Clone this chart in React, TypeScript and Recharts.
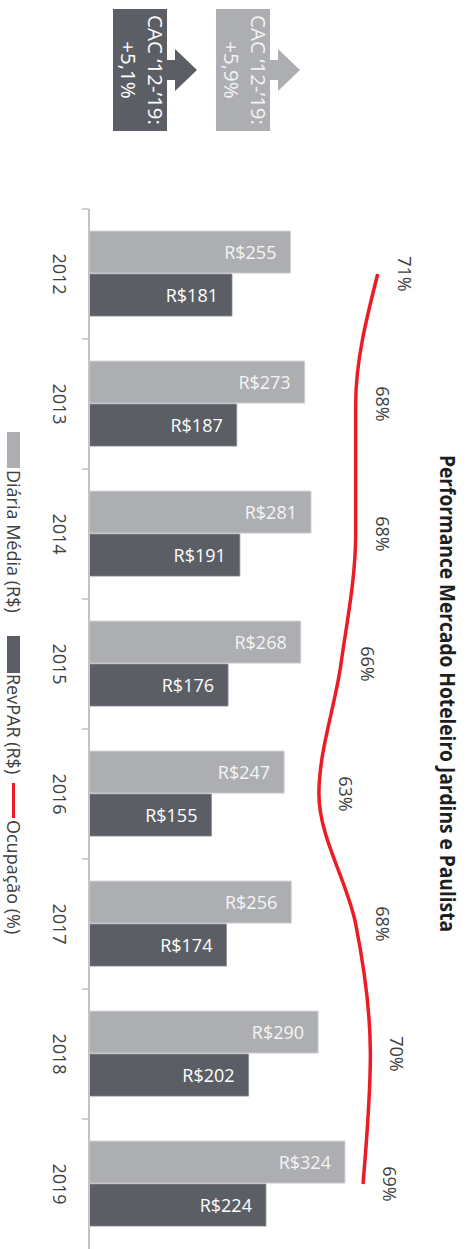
import React from 'react';
import { ComposedChart, Bar, Line, XAxis, YAxis, LabelList } from 'recharts';

const categories = ['2012', '2013', '2014', '2015', '2016', '2017', '2018', '2019'];
const diariaMedia = [255, 273, 281, 268, 247, 256, 290, 324];
const revpar = [181, 187, 191, 176, 155, 174, 202, 224];
const ocupacao = [71, 68, 68, 66, 63, 68, 70, 69];
const seriesNames = ['Diária Média (R$)', 'RevPAR (R$)', 'Ocupação (%)'];
const cacLabels = ['+5,1%', '+5,9%'];
const title = 'Performance Mercado Hoteleiro Jardins e Paulista';

const W = 1249;
const H = 466;
const MARGIN = { top: 61, right: 0, bottom: 49, left: 209 };
const BAND = (W - MARGIN.left - MARGIN.right) / categories.length;

const LIGHT = '#adaeb2';
const DARK = '#5b5e64';
const RED = '#ec1c24';
const TEXT = '#404040';
const FONT = '"Open Sans", "Noto Sans", sans-serif';

const data = categories.map((c, i) => ({
  year: c,
  diaria: diariaMedia[i],
  revpar: revpar[i],
  ocup: ocupacao[i],
}));

const CategoryTick = (props: any) => {
  const { x, y, payload } = props;
  const left = x - BAND / 2;
  return (
    <g>
      <line x1={left} x2={left} y1={y} y2={y + 7} stroke="#bdbdbd" strokeWidth={1.5} />
      <text x={x} y={y + 29} textAnchor="middle" dominantBaseline="central" fill={TEXT} fontSize={18} fontFamily={FONT}>
        {payload.value}
      </text>
    </g>
  );
};

const barLabel = (color: string) => (props: any) => {
  const x = Number(props.x);
  const y = Number(props.y);
  const width = Number(props.width);
  const cx = x + width / 2;
  const ty = y + 14;
  return (
    <text
      x={cx}
      y={ty}
      transform={`rotate(-90 ${cx} ${ty})`}
      textAnchor="end"
      dominantBaseline="central"
      fill={color}
      fontSize={18}
      fontFamily={FONT}
    >
      {`R$${props.value}`}
    </text>
  );
};

const lineLabel = (props: any) => {
  const x = Number(props.x);
  const y = Number(props.y);
  return (
    <text x={x} y={y - 27} textAnchor="middle" dominantBaseline="central" fill={TEXT} fontSize={18} fontFamily={FONT}>
      {`${props.value}%`}
    </text>
  );
};

const arrowBox = (top: number, fill: string) => {
  const l = 9, r = 131, b = top + 54;
  const pts = [
    [l, top], [60, top], [60, top - 8], [49, top - 8], [70, top - 30], [91, top - 8],
    [80, top - 8], [80, top], [r, top], [r, b], [l, b],
  ].map((p) => p.join(',')).join(' ');
  return <polygon points={pts} fill={fill} />;
};

export default function App() {
  return (
    <div style={{ position: 'absolute', left: 0, top: 0, width: H, height: W, overflow: 'hidden', background: '#fff' }}>
      <div
        style={{
          position: 'absolute',
          left: 0,
          top: 0,
          width: W,
          height: H,
          transformOrigin: '0 0',
          transform: `translateX(${H}px) rotate(90deg)`,
          fontFamily: FONT,
        }}
      >
        <ComposedChart width={W} height={H} data={data} margin={MARGIN} barCategoryGap="17%" barGap={1}>
          <XAxis
            dataKey="year"
            height={40}
            interval={0}
            tickLine={false}
            tickSize={0}
            tickMargin={0}
            axisLine={{ stroke: '#c4c4c4', strokeWidth: 2 }}
            tick={<CategoryTick />}
          />
          <YAxis yAxisId="v" hide domain={[0, 400]} allowDataOverflow />
          <YAxis yAxisId="p" hide orientation="right" domain={[31.72, 74.71]} allowDataOverflow />
          <Bar yAxisId="v" dataKey="diaria" fill={LIGHT} stroke="#cfd0d3" strokeWidth={1} isAnimationActive={false}>
            <LabelList dataKey="diaria" content={barLabel('#f5f5f5')} />
          </Bar>
          <Bar yAxisId="v" dataKey="revpar" fill={DARK} stroke="#8a8d92" strokeWidth={0.8} isAnimationActive={false}>
            <LabelList dataKey="revpar" content={barLabel('#ffffff')} />
          </Bar>
          <Line
            yAxisId="p"
            type="monotone"
            dataKey="ocup"
            stroke={RED}
            strokeWidth={3.5}
            dot={false}
            activeDot={false}
            isAnimationActive={false}
          >
            <LabelList dataKey="ocup" content={lineLabel} />
          </Line>
        </ComposedChart>

        <svg width={W} height={H} style={{ position: 'absolute', left: 0, top: 0, pointerEvents: 'none' }}>
          <text
            x={693.5}
            y={26}
            textAnchor="middle"
            fontSize={22}
            fontWeight={700}
            fill="#1e1e1e"
            fontFamily={FONT}
            textLength={477}
            lengthAdjust="spacingAndGlyphs"
          >
            {title}
          </text>

          {arrowBox(196, LIGHT)}
          {arrowBox(299, DARK)}
          {[{ top: 299, txt: cacLabels[0], c: '#ffffff' }, { top: 196, txt: cacLabels[1], c: '#f3f3f3' }].map((b, i) => (
            <g key={i} fontFamily={FONT} fontSize={20.5} fill={b.c} textAnchor="middle">
              <text x={70} y={b.top + 11} dominantBaseline="central">CAC ‘12-’19:</text>
              <text x={70} y={b.top + 38} dominantBaseline="central">{b.txt}</text>
            </g>
          ))}

          <rect x={432} y={446} width={36} height={13} fill={LIGHT} />
          <text x={470} y={452} dominantBaseline="central" fontSize={18} fill={TEXT} fontFamily={FONT}>{seriesNames[0]}</text>
          <rect x={636} y={446} width={37} height={13} fill={DARK} />
          <text x={674} y={452} dominantBaseline="central" fontSize={18} fill={TEXT} fontFamily={FONT}>{seriesNames[1]}</text>
          <line x1={783} x2={818} y1={452.5} y2={452.5} stroke={RED} strokeWidth={3} />
          <text x={820} y={452} dominantBaseline="central" fontSize={18} fill={TEXT} fontFamily={FONT}>{seriesNames[2]}</text>
        </svg>
      </div>
    </div>
  );
}
